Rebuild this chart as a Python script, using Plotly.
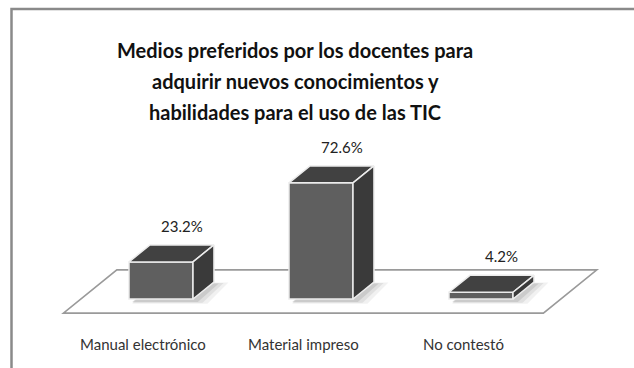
import plotly.graph_objects as go

# Survey results
categories = ["Manual electrónico", "Material impreso", "No contestó"]
values = [23.2, 72.6, 4.2]
value_labels = ["23.2%", "72.6%", "4.2%"]
title_lines = [
    "Medios preferidos por los docentes para",
    "adquirir nuevos conocimientos y",
    "habilidades para el uso de las TIC",
]

W, H = 634, 368
X_RANGE = [-1.00625, 2.95625]
Y_RANGE = [-43.125, 186.875]

BAR_W = 0.4          # front face width (x units)
DX, DY = 0.131, 10.6  # oblique depth vector (x units, % units)

FRONT = "#5f5f5f"
TOP = "#414141"
SIDE = "#3a3a3a"
EDGE = "#ececec"

xs = list(range(len(categories)))

fig = go.Figure()

# floor slab under the bars
fx0, fx1, fy0, fdepth = -0.61, 2.39, -8.8, 2.55
floor_path = (
    f"M {fx0},{fy0} L {fx1},{fy0} "
    f"L {fx1 + fdepth * DX},{fy0 + fdepth * DY} "
    f"L {fx0 + fdepth * DX},{fy0 + fdepth * DY} Z"
)
shapes = [dict(type="path", path=floor_path, xref="x", yref="y", layer="below",
               fillcolor="white", line=dict(color="#9a9a9a", width=1.6))]

# soft shadows cast on the floor
for x in xs:
    for grow, op in [(0.09, 0.10), (0.06, 0.14), (0.03, 0.20)]:
        l, r = x - BAR_W / 2 + 0.02, x + BAR_W / 2 + grow
        b = -1.2 - grow * 20
        path = (f"M {l},{b} L {r},{b} L {r + DX},{b + DY + grow * 30} "
                f"L {l + DX},{b + DY + grow * 30} Z")
        shapes.append(dict(type="path", path=path, xref="x", yref="y", layer="below",
                           fillcolor="#7a7a7a", opacity=op, line=dict(width=0)))

# front faces
fig.add_trace(go.Bar(
    x=xs, y=values, width=BAR_W,
    marker=dict(color=FRONT, line=dict(color=EDGE, width=1.5)),
    hoverinfo="skip", showlegend=False,
))

# top and side faces
for x, v in zip(xs, values):
    l, r = x - BAR_W / 2, x + BAR_W / 2
    fig.add_trace(go.Scatter(
        x=[l, r, r + DX, l + DX, l], y=[v, v, v + DY, v + DY, v],
        mode="lines", fill="toself", fillcolor=TOP,
        line=dict(color=EDGE, width=1.5), hoverinfo="skip", showlegend=False,
    ))
    fig.add_trace(go.Scatter(
        x=[r, r + DX, r + DX, r, r], y=[0, DY, v + DY, v, 0],
        mode="lines", fill="toself", fillcolor=SIDE,
        line=dict(color=EDGE, width=1.5), hoverinfo="skip", showlegend=False,
    ))

annotations = []
# value labels above each bar
for x, v, t in zip(xs, values, value_labels):
    annotations.append(dict(x=x + 0.13, y=v + 22.5, xref="x", yref="y", text=t,
                            showarrow=False, xanchor="center", yanchor="middle",
                            font=dict(family="Lato", size=15, color="#222222")))
# category labels along the front of the floor
for x, c in zip(xs, categories):
    annotations.append(dict(x=x - 0.11, y=-28.1, xref="x", yref="y", text=c,
                            showarrow=False, xanchor="center", yanchor="middle",
                            font=dict(family="Lato", size=15, color="#333333")))
# title
for i, line in enumerate(title_lines):
    annotations.append(dict(x=295 / W, y=1 - (50 + 31 * i) / H, xref="paper", yref="paper",
                            text=f"<b>{line}</b>", showarrow=False,
                            xanchor="center", yanchor="middle",
                            font=dict(family="Lato", size=20, color="#111111")))

# outer frame
shapes.append(dict(type="rect", xref="paper", yref="paper",
                   x0=11.5 / W, y0=-0.05, x1=1.05, y1=1 - 9 / H,
                   line=dict(color="#8a8a8a", width=2.5), fillcolor="rgba(0,0,0,0)"))

fig.update_layout(
    width=W, height=H,
    margin=dict(l=0, r=0, t=0, b=0),
    paper_bgcolor="white", plot_bgcolor="white",
    xaxis=dict(range=X_RANGE, visible=False, fixedrange=True),
    yaxis=dict(range=Y_RANGE, visible=False, fixedrange=True),
    shapes=shapes, annotations=annotations,
    showlegend=False,
)

fig.write_html("out.html")
